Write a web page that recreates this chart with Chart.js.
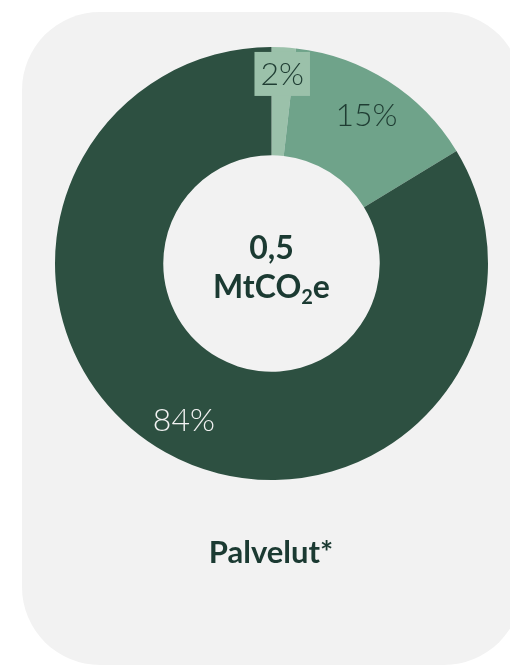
<!DOCTYPE html>
<html>
<head>
<meta charset="utf-8">
<script src="https://cdn.jsdelivr.net/npm/chart.js@4"></script>
<style>
  body { margin: 0; background: #ffffff; overflow: hidden; }
  #Page { position: relative; width: 510px; height: 666px; overflow: hidden; }
  #Card { position: absolute; left: 22px; top: 12px; width: 500px; height: 653px;
          border-radius: 78px; background: #f2f2f2; }
  #Chart__Box { position: absolute; left: 0; top: 0; width: 510px; height: 666px; }
  #Title { position: absolute; left: 0; width: 542px; top: 532px; text-align: center;
           font-family: Lato, "Open Sans", sans-serif; font-weight: 700; font-size: 31px;
           color: #1b3a32; }
</style>
</head>
<body>
<div id="Page">
  <div id="Card"></div>
  <div id="Chart__Box"><canvas id="Donut"></canvas></div>
  <div id="Title">Palvelut*</div>
</div>
<script>
/* slice names, values (share in %) and printed labels */
const categories = ["Pieni osuus", "Keskiosuus", "Suurin osuus"];
const values = [1.8, 14.5, 83.7];
const valueLabels = ["2%", "15%", "84%"];
/* total in the middle of the ring */
const totalValue = "0,5";
const totalUnit = ["MtCO", "2", "e"];

const sliceColors = ["#9bc1aa", "#6fa38a", "#2d5041"];
const labelColors = ["#1f3d33", "#1f3d33", "#f2f2f2"];
/* label distance from center, as part of the outer radius */
const labelRadius = [0.877, 0.815, 0.826];

const FONT = 'Lato, "Open Sans", sans-serif';

/* draws the percent labels, the 2% one gets a small box behind it */
const sliceLabels = {
  id: "sliceLabels",
  afterDatasetsDraw(chart) {
    const ctx = chart.ctx;
    const meta = chart.getDatasetMeta(0);
    ctx.save();
    ctx.font = "300 32px " + FONT;
    ctx.textAlign = "center";
    ctx.textBaseline = "middle";
    meta.data.forEach((arc, i) => {
      const p = arc.getProps(["x", "y", "startAngle", "endAngle", "outerRadius"], true);
      const mid = (p.startAngle + p.endAngle) / 2;
      const r = p.outerRadius * labelRadius[i];
      const x = p.x + Math.cos(mid) * r;
      const y = p.y + Math.sin(mid) * r;
      if (i == 0) {
        const w = ctx.measureText(valueLabels[i]).width + 12;
        ctx.fillStyle = sliceColors[i];
        ctx.fillRect(x - w / 2, y - 22, w, 44);
      }
      ctx.fillStyle = labelColors[i];
      ctx.fillText(valueLabels[i], x, y + 1);
    });
    ctx.restore();
  }
};

/* total text in the hole */
const centerText = {
  id: "centerText",
  afterDraw(chart) {
    const ctx = chart.ctx;
    const p = chart.getDatasetMeta(0).data[0];
    const cx = p.x, cy = p.y;
    ctx.save();
    ctx.fillStyle = "#1b3a32";
    ctx.textBaseline = "alphabetic";
    ctx.font = "700 32px " + FONT;
    ctx.textAlign = "center";
    ctx.fillText(totalValue, cx, cy - 5);
    const big = "700 32px " + FONT, small = "700 20px " + FONT;
    ctx.font = big;
    const w1 = ctx.measureText(totalUnit[0]).width;
    const w3 = ctx.measureText(totalUnit[2]).width;
    ctx.font = small;
    const w2 = ctx.measureText(totalUnit[1]).width;
    let x = cx - (w1 + w2 + w3) / 2;
    const base = cy + 34;
    ctx.textAlign = "left";
    ctx.font = big;
    ctx.fillText(totalUnit[0], x, base);
    x += w1;
    ctx.font = small;
    ctx.fillText(totalUnit[1], x, base + 6);
    x += w2;
    ctx.font = big;
    ctx.fillText(totalUnit[2], x, base);
    ctx.restore();
  }
};

new Chart(document.getElementById("Donut"), {
  type: "doughnut",
  plugins: [sliceLabels, centerText],
  data: {
    labels: categories,
    datasets: [{
      data: values,
      backgroundColor: sliceColors,
      borderWidth: 0,
      hoverOffset: 0
    }]
  },
  options: {
    responsive: true,
    maintainAspectRatio: false,
    animation: false,
    cutout: "50%",
    layout: { padding: { left: 55, right: 22, top: 47, bottom: 186 } },
    plugins: {
      legend: { display: false },
      tooltip: { enabled: false }
    }
  }
});
</script>
</body>
</html>
